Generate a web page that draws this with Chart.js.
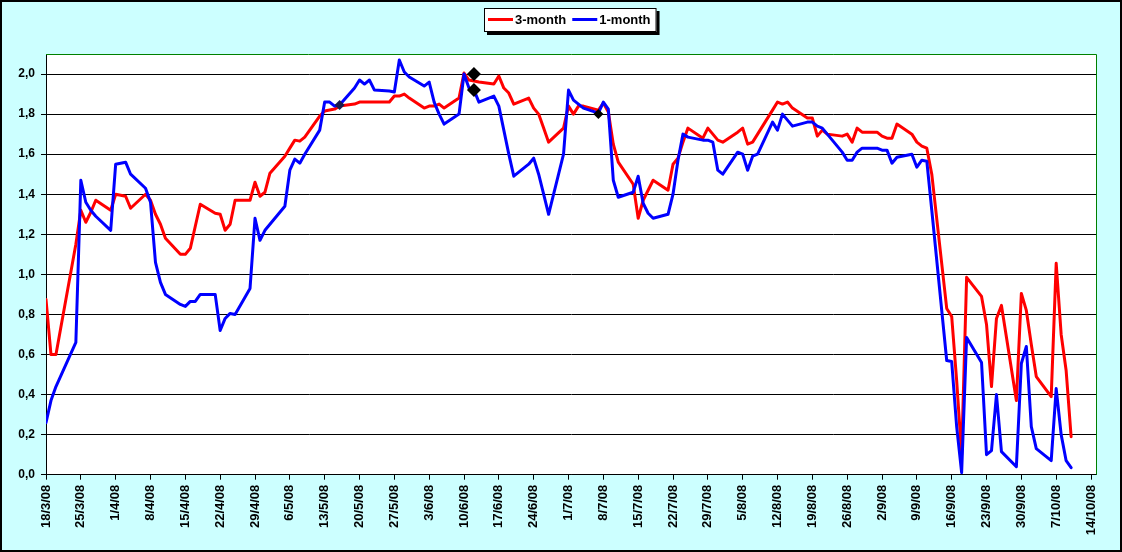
<!DOCTYPE html>
<html>
<head>
<meta charset="utf-8">
<title>3-month / 1-month</title>
<script src="https://cdn.jsdelivr.net/npm/chart.js@4.4.1/dist/chart.umd.min.js"></script>
<style>
  html, body { margin: 0; padding: 0; background: #CCFFFF; }
  #wrap { width: 1122px; height: 552px; }
</style>
</head>
<body>
<div id="wrap"><canvas id="chart" width="1122" height="552"></canvas></div>
<script>
// all dates are in 2008, written d/m
const xTickLabels = [
  '18/3/08', '25/3/08', '1/4/08', '8/4/08', '15/4/08', '22/4/08', '29/4/08', '6/5/08',
  '13/5/08', '20/5/08', '27/5/08', '3/6/08', '10/6/08', '17/6/08', '24/6/08', '1/7/08',
  '8/7/08', '15/7/08', '22/7/08', '29/7/08', '5/8/08', '12/8/08', '19/8/08', '26/8/08',
  '2/9/08', '9/9/08', '16/9/08', '23/9/08', '30/9/08', '7/10/08', '14/10/08',
];
const yTicks = [0, 0.2, 0.4, 0.6, 0.8, 1.0, 1.2, 1.4, 1.6, 1.8, 2.0];

const threeMonthDates = [
  '18/3', '19/3', '20/3', '24/3', '25/3', '26/3', '27/3', '28/3', '31/3',
  '1/4', '2/4', '3/4', '4/4', '7/4', '8/4', '9/4', '10/4', '11/4', '14/4', '15/4', '16/4', '17/4', '18/4',
  '21/4', '22/4', '23/4', '24/4', '25/4', '28/4', '29/4', '30/4',
  '1/5', '2/5', '5/5', '6/5', '7/5', '8/5', '9/5', '12/5', '13/5', '14/5', '15/5', '16/5',
  '19/5', '20/5', '21/5', '22/5', '23/5', '26/5', '27/5', '28/5', '29/5', '30/5',
  '2/6', '3/6', '4/6', '5/6', '6/6', '9/6', '10/6', '11/6', '12/6', '13/6', '16/6', '17/6', '18/6', '19/6', '20/6',
  '23/6', '24/6', '25/6', '26/6', '27/6', '30/6',
  '1/7', '2/7', '3/7', '4/7', '7/7', '8/7', '9/7', '10/7', '11/7', '14/7', '15/7', '16/7', '17/7', '18/7',
  '21/7', '22/7', '23/7', '24/7', '25/7', '28/7', '29/7', '30/7', '31/7',
  '1/8', '4/8', '5/8', '6/8', '7/8', '8/8', '11/8', '12/8', '13/8', '14/8', '15/8', '18/8', '19/8', '20/8', '21/8', '22/8',
  '25/8', '26/8', '27/8', '28/8', '29/8',
  '1/9', '2/9', '3/9', '4/9', '5/9', '8/9', '9/9', '10/9', '11/9', '12/9', '15/9', '16/9', '17/9', '18/9', '19/9',
  '22/9', '23/9', '24/9', '25/9', '26/9', '29/9', '30/9',
  '1/10', '2/10', '3/10', '6/10', '7/10', '8/10', '9/10', '10/10',
];
const threeMonthValues = [
  0.875, 0.60, 0.60, 1.15, 1.32, 1.26, 1.31, 1.37, 1.32,
  1.40, 1.395, 1.39, 1.33, 1.40, 1.37, 1.30, 1.25, 1.18, 1.10, 1.10, 1.13, 1.24, 1.35,
  1.305, 1.30, 1.22, 1.25, 1.37, 1.37, 1.46, 1.39,
  1.41, 1.505, 1.59, 1.63, 1.67, 1.665, 1.685, 1.79, 1.815, 1.82, 1.825, 1.84,
  1.85, 1.86, 1.86, 1.86, 1.86, 1.86, 1.89, 1.89, 1.90, 1.88,
  1.83, 1.84, 1.84, 1.85, 1.83, 1.88, 2.005, 1.97, 1.965, 1.96, 1.95, 1.99, 1.93, 1.905, 1.85,
  1.88, 1.83, 1.80, 1.73, 1.66, 1.73,
  1.84, 1.80, 1.84, 1.84, 1.82, 1.855, 1.81, 1.65, 1.56, 1.45, 1.28, 1.37, 1.42, 1.47,
  1.42, 1.55, 1.58, 1.66, 1.73, 1.68, 1.73, 1.70, 1.67,
  1.66, 1.71, 1.73, 1.65, 1.66, 1.70, 1.82, 1.86, 1.85, 1.86, 1.83, 1.78, 1.78, 1.69, 1.72, 1.70,
  1.69, 1.70, 1.66, 1.73, 1.71,
  1.71, 1.69, 1.68, 1.68, 1.75, 1.70, 1.66, 1.64, 1.63, 1.50, 0.83, 0.79, 0.47, 0.10, 0.985,
  0.89, 0.75, 0.44, 0.78, 0.845, 0.37, 0.905,
  0.82, 0.65, 0.49, 0.39, 1.055, 0.70, 0.52, 0.19,
];

const oneMonthDates = threeMonthDates;
const oneMonthValues = [
  0.26, 0.37, 0.44, 0.66, 1.47, 1.36, 1.32, 1.29, 1.22,
  1.55, 1.555, 1.56, 1.50, 1.43, 1.36, 1.06, 0.96, 0.90, 0.85, 0.84, 0.865, 0.865, 0.90,
  0.90, 0.72, 0.78, 0.805, 0.80, 0.93, 1.28, 1.17,
  1.22, 1.25, 1.34, 1.52, 1.575, 1.555, 1.60, 1.72, 1.86, 1.86, 1.84, 1.845,
  1.93, 1.97, 1.95, 1.97, 1.92, 1.915, 1.91, 2.07, 2.01, 1.985,
  1.94, 1.96, 1.86, 1.80, 1.75, 1.80, 2.00, 1.93, 1.92, 1.86, 1.89, 1.84, 1.72, 1.60, 1.49,
  1.55, 1.58, 1.50, 1.40, 1.30, 1.60,
  1.92, 1.87, 1.85, 1.83, 1.805, 1.86, 1.825, 1.47, 1.385, 1.41, 1.49, 1.355, 1.305, 1.28,
  1.30, 1.40, 1.57, 1.70, 1.685, 1.67, 1.67, 1.66, 1.52,
  1.50, 1.61, 1.60, 1.52, 1.59, 1.60, 1.76, 1.72, 1.80, 1.77, 1.74, 1.76, 1.76, 1.74, 1.73, 1.70,
  1.61, 1.57, 1.57, 1.61, 1.63,
  1.63, 1.62, 1.62, 1.555, 1.585, 1.60, 1.535, 1.57, 1.565, 1.32, 0.57, 0.565, 0.24, 0.01, 0.685,
  0.56, 0.10, 0.12, 0.40, 0.115, 0.04, 0.555,
  0.64, 0.24, 0.13, 0.07, 0.43, 0.20, 0.07, 0.035,
];

// the black diamonds on the lines
const markerDates = ['16/5', '12/6', '12/6', '7/7'];
const markerValues = [1.845, 2.00, 1.92, 1.80];

const dayOffset = (text) => {
  const [d, m] = text.split('/').map(Number);
  return Math.round((Date.UTC(2008, m - 1, d) - Date.UTC(2008, 2, 18)) / 86400000);
};

const toPoints = (dates, values) => dates.map((date, i) => ({ x: dayOffset(date), y: values[i] }));

const FONT = 'Arial, "Liberation Sans", sans-serif';
Chart.defaults.font.family = FONT;
Chart.defaults.color = '#000000';

const frame = {
  id: 'frame',
  beforeDraw(chart) {
    const { ctx, chartArea: a } = chart;
    ctx.save();
    ctx.fillStyle = '#CCFFFF';
    ctx.fillRect(0, 0, chart.width, chart.height);
    ctx.fillStyle = '#FFFFFF';
    ctx.fillRect(a.left, a.top, a.right - a.left, a.bottom - a.top);
    ctx.restore();
  },
  afterDraw(chart) {
    const { ctx, chartArea: a } = chart;
    ctx.save();
    ctx.strokeStyle = '#008000';
    ctx.lineWidth = 1;
    ctx.beginPath();
    ctx.moveTo(a.left, a.top + 0.5);
    ctx.lineTo(a.right + 0.5, a.top + 0.5);
    ctx.lineTo(a.right + 0.5, a.bottom);
    ctx.stroke();

    ctx.strokeStyle = '#000000';
    ctx.lineWidth = 2;
    ctx.strokeRect(1, 1, chart.width - 2, chart.height - 2);
    ctx.restore();
  },
};

// Excel style legend: white box with a black drop shadow
const boxLegend = {
  id: 'boxLegend',
  afterDraw(chart) {
    const { ctx } = chart;
    const items = chart.data.datasets.filter((ds) => ds.inLegend);
    const left = 484;
    const top = 8;
    const height = 24;
    ctx.save();
    ctx.font = 'bold 13px ' + FONT;
    let x = left + 4;
    const widths = items.map((ds) => ctx.measureText(ds.label).width);
    const width = 4 + items.reduce((sum, ds, i) => sum + 27 + widths[i] + 6, 0) - 6 + 6;

    ctx.fillStyle = '#000000';
    ctx.fillRect(left + 3, top + 3, width, height);
    ctx.fillStyle = '#FFFFFF';
    ctx.fillRect(left, top, width, height);
    ctx.strokeStyle = '#000000';
    ctx.lineWidth = 1;
    ctx.strokeRect(left + 0.5, top + 0.5, width - 1, height - 1);

    const mid = top + height / 2;
    ctx.textBaseline = 'middle';
    items.forEach((ds, i) => {
      ctx.strokeStyle = ds.borderColor;
      ctx.lineWidth = 3;
      ctx.beginPath();
      ctx.moveTo(x, mid - 0.5);
      ctx.lineTo(x + 25, mid - 0.5);
      ctx.stroke();
      ctx.fillStyle = '#000000';
      ctx.fillText(ds.label, x + 27, mid + 0.5);
      x += 27 + widths[i] + 6;
    });
    ctx.restore();
  },
};

const config = {
  type: 'line',
  data: {
    datasets: [
      {
        label: '3-month',
        inLegend: true,
        data: toPoints(threeMonthDates, threeMonthValues),
        borderColor: '#FF0000',
        borderWidth: 3,
        borderJoinStyle: 'round',
        borderCapStyle: 'round',
        pointRadius: 0,
        tension: 0,
        order: 2,
      },
      {
        label: '1-month',
        inLegend: true,
        data: toPoints(oneMonthDates, oneMonthValues),
        borderColor: '#0000FF',
        borderWidth: 3,
        borderJoinStyle: 'round',
        borderCapStyle: 'round',
        pointRadius: 0,
        tension: 0,
        order: 1,
      },
      {
        label: 'markers',
        inLegend: false,
        data: toPoints(markerDates, markerValues),
        showLine: false,
        pointStyle: 'rectRot',
        pointRadius: [5, 7, 7, 5],
        backgroundColor: ['#1A1A4D', '#000000', '#000000', '#000000'],
        borderWidth: 0,
        order: 0,
      },
    ],
  },
  options: {
    responsive: false,
    animation: false,
    devicePixelRatio: 1,
    layout: {
      padding: { top: 54, right: 26, left: 0, bottom: 0 },
    },
    plugins: {
      legend: { display: false },
      tooltip: { enabled: false },
    },
    scales: {
      x: {
        type: 'linear',
        min: 0,
        max: 211,
        afterBuildTicks: (scale) => {
          scale.ticks = xTickLabels.map((_, i) => ({ value: i * 7 }));
        },
        afterFit: (scale) => {
          scale.height = 77.3;
        },
        ticks: {
          autoSkip: false,
          minRotation: 90,
          maxRotation: 90,
          padding: 5,
          font: { size: 13, weight: 'bold' },
          callback: (value, index) => xTickLabels[index],
        },
        grid: {
          drawOnChartArea: false,
          drawTicks: true,
          tickLength: 5,
          color: '#000000',
        },
        border: { display: true, color: '#000000', width: 1 },
      },
      y: {
        min: 0,
        max: 2.1,
        afterBuildTicks: (scale) => {
          scale.ticks = yTicks.map((v) => ({ value: v }));
        },
        afterFit: (scale) => {
          scale.width = 46;
        },
        ticks: {
          padding: 6,
          font: { size: 12, weight: 'bold' },
          callback: (value) => value.toFixed(1).replace('.', ','),
        },
        grid: {
          color: '#000000',
          lineWidth: 1,
          drawTicks: true,
          tickLength: 5,
        },
        border: { display: true, color: '#000000', width: 1 },
      },
    },
  },
  plugins: [frame, boxLegend],
};

new Chart(document.getElementById('chart'), config);
</script>
</body>
</html>
